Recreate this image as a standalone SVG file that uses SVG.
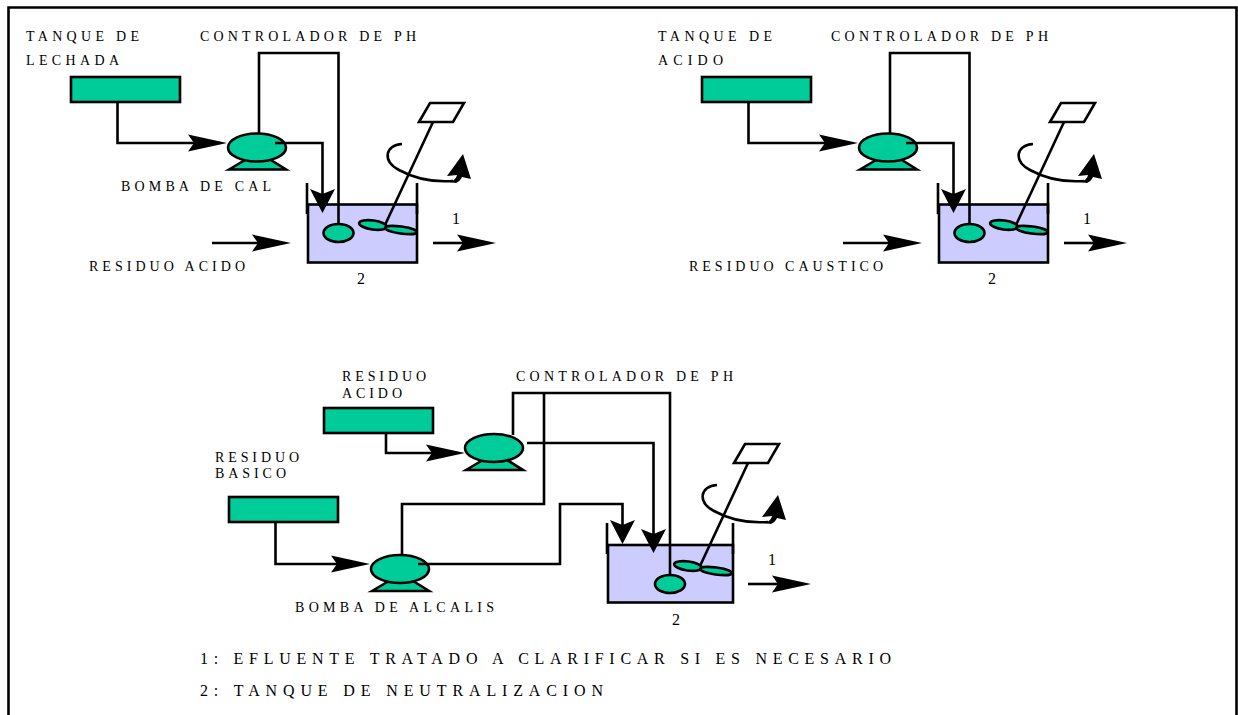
<svg xmlns="http://www.w3.org/2000/svg" xmlns:xlink="http://www.w3.org/1999/xlink" width="1238" height="715" viewBox="0 0 1238 715">
<style>
.s{stroke:#000;stroke-width:2.6;fill:none;stroke-linejoin:miter}
.g{fill:#00cc99;stroke:#000;stroke-width:2.6}
.l{fill:#ccccff;stroke:#000;stroke-width:2.6}
.w{fill:#fff;stroke:#000;stroke-width:2.6}
.t{font-family:"Liberation Serif","Times New Roman",serif;font-size:14px;fill:#000}
.n{font-size:16px}
.b{font-size:16px}
</style>
<defs>
<marker id="hr" markerUnits="userSpaceOnUse" markerWidth="42" markerHeight="20" viewBox="0 -10 42 20" refX="6" refY="0" orient="auto"><path d="M0,-8.5 L39,0 L0,8.5 L6,0Z" fill="#000"/></marker>
<marker id="hd" markerUnits="userSpaceOnUse" markerWidth="26" markerHeight="28" viewBox="0 -14 26 28" refX="5" refY="0" orient="auto"><path d="M0,-12.5 L24,0 L0,12.5 L5,0Z" fill="#000"/></marker>
<g id="pumpShape">
<path class="g" d="M-28,22 L-11,12 L13,12 L29,22Z"/>
<ellipse class="g" cx="0" cy="0" rx="29" ry="14"/>
</g>
<g id="agitator">
<path class="w" d="M0,19 L11,0 L45,0 L34,19Z"/>
<path class="s" d="M14,19 L-34,122"/>
<ellipse class="g" cx="-46" cy="122" rx="14" ry="4.5" transform="rotate(8 -46 122)"/>
<ellipse class="g" cx="-18" cy="127" rx="16" ry="3.5" transform="rotate(8 -18 127)"/>
<path class="s" d="M-17,41 C-34,42 -37,58 -20,67 C0,78 20,79 34,78"/>
<path d="M44,51 L28,73 L38,72 C37,76 34,78 30,79 L37,80 C41,78 42,76 43,74 L52,76Z" fill="#000"/>
</g>
</defs>
<path id="frame" class="s" d="M8.5,715 V7.5 H1236.5 V715"/>

<g id="tank1"><rect class="g" x="71" y="77" width="109" height="25"/></g>
<g id="pump1"><use href="#pumpShape" x="257" y="147.5"/></g>
<g id="vessel1"><rect class="l" x="308" y="204.5" width="109" height="58"/><path class="s" d="M307,183 V214 M417,183 V214"/></g>
<g id="sensor1"><ellipse class="g" cx="338.5" cy="233" rx="15" ry="9"/></g>
<g id="agitator1"><use href="#agitator" x="419" y="103"/></g>

<g id="tank2"><rect class="g" x="702" y="77" width="109" height="25"/></g>
<g id="pump2"><use href="#pumpShape" x="888" y="147.5"/></g>
<g id="vessel2"><rect class="l" x="939" y="204.5" width="109" height="58"/><path class="s" d="M938,183 V214 M1048,183 V214"/></g>
<g id="sensor2"><ellipse class="g" cx="969.5" cy="233" rx="15" ry="9"/></g>
<g id="agitator2"><use href="#agitator" x="1050" y="103"/></g>

<g id="tank3"><rect class="g" x="324" y="408" width="109" height="25"/></g>
<g id="tank4"><rect class="g" x="229" y="497" width="109" height="25"/></g>
<g id="pump3"><use href="#pumpShape" x="494" y="448"/></g>
<g id="pump4"><use href="#pumpShape" x="400" y="569"/></g>
<g id="vessel3"><rect class="l" x="608" y="545" width="125" height="57.5"/><path class="s" d="M607,523 V554 M733,523 V554"/></g>
<g id="sensor3"><ellipse class="g" cx="670" cy="584" rx="15" ry="9"/></g>
<g id="agitator3"><use href="#agitator" x="734" y="444"/></g>

<g id="connectors">
<path class="s" marker-end="url(#hr)" d="M117.5,102 V143 H194"/>
<path class="s" d="M259,134 V53 H338.5 V224"/>
<path class="s" marker-end="url(#hd)" d="M275,143 H322.5 V194"/>
<path class="s" marker-end="url(#hr)" d="M212,243 H258"/>
<path class="s" marker-end="url(#hr)" d="M433,243 H463"/>

<path class="s" marker-end="url(#hr)" d="M748.5,102 V143 H825"/>
<path class="s" d="M890,134 V53 H969.5 V224"/>
<path class="s" marker-end="url(#hd)" d="M906,143 H953.5 V194"/>
<path class="s" marker-end="url(#hr)" d="M843,243 H889"/>
<path class="s" marker-end="url(#hr)" d="M1064,243 H1094"/>

<path class="s" marker-end="url(#hr)" d="M386,433 V453 H432"/>
<path class="s" marker-end="url(#hr)" d="M275.5,522 V564 H337"/>
<path class="s" d="M513,435 V393 H670 V575"/>
<path class="s" d="M544,393 V504 H402 V555"/>
<path class="s" marker-end="url(#hd)" d="M527,443 H653.5 V534"/>
<path class="s" marker-end="url(#hd)" d="M418,564 H560 V504 H622.5 V525"/>
<path class="s" marker-end="url(#hr)" d="M748,584 H778"/>
</g>

<g id="labels">
<text class="t" x="26" y="41" textLength="113">TANQUE DE</text>
<text class="t" x="26" y="65" textLength="93">LECHADA</text>
<text class="t" x="200" y="41" textLength="216">CONTROLADOR DE PH</text>
<text class="t" x="121" y="191" textLength="150">BOMBA DE CAL</text>
<text class="t" x="89" y="271" textLength="156">RESIDUO ACIDO</text>
<text class="t n" x="357" y="284">2</text>
<text class="t n" x="452" y="224">1</text>

<text class="t" x="658" y="41" textLength="114">TANQUE DE</text>
<text class="t" x="658" y="65" textLength="65">ACIDO</text>
<text class="t" x="831" y="41" textLength="217">CONTROLADOR DE PH</text>
<text class="t" x="689" y="271" textLength="194">RESIDUO CAUSTICO</text>
<text class="t n" x="988" y="284">2</text>
<text class="t n" x="1083" y="224">1</text>

<text class="t" x="342" y="381" textLength="84">RESIDUO</text>
<text class="t" x="342" y="398" textLength="60">ACIDO</text>
<text class="t" x="516" y="381" textLength="217">CONTROLADOR DE PH</text>
<text class="t" x="215" y="462" textLength="84">RESIDUO</text>
<text class="t" x="215" y="478" textLength="71">BASICO</text>
<text class="t" x="295" y="612" textLength="199">BOMBA DE ALCALIS</text>
<text class="t n" x="672" y="625">2</text>
<text class="t n" x="768" y="565">1</text>
<text class="t b" x="200" y="664" textLength="691">1: EFLUENTE TRATADO A CLARIFICAR SI ES NECESARIO</text>
<text class="t b" x="200" y="696" textLength="403">2: TANQUE DE NEUTRALIZACION</text>
</g>
</svg>
